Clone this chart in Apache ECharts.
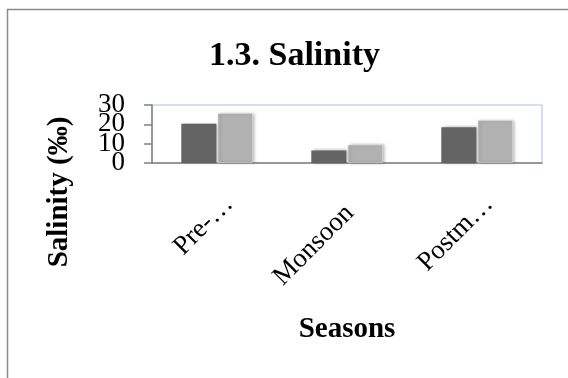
<!DOCTYPE html>
<html>
<head>
<meta charset="utf-8">
<style>
  html, body { margin: 0; padding: 0; background: #ffffff; }
  #chart { width: 568px; height: 378px; }
</style>
<script src="https://cdn.jsdelivr.net/npm/echarts@6/dist/echarts.min.js"></script>
</head>
<body>
<div id="chart"></div>
<script>
// Seasonal salinity, two series per season
const seasons = ['Pre-monsoon', 'Monsoon', 'Postmonsoon'];
const seasonLabels = ['Pre-\u2026', 'Monsoon', 'Postm\u2026'];
const seriesA = [20.3, 6.5, 18.5];
const seriesB = [25.7, 9.4, 22.1];
const yTicks = [0, 10, 20, 30];

const serif = '"Liberation Serif", "Times New Roman", serif';
const chart = echarts.init(document.getElementById('chart'), null, { renderer: 'canvas' });

const barShadow = {
  shadowColor: 'rgba(0,0,0,0.35)',
  shadowBlur: 3,
  shadowOffsetX: 2,
  shadowOffsetY: 0
};

// The tick labels crowd each other on this short axis, so they are split
// across two coincident value axes (alternating ticks) to keep all of them drawn.
function yAxisFor(part, drawLine) {
  return {
    type: 'value',
    position: 'left',
    min: yTicks[0], max: yTicks[yTicks.length - 1], interval: 10,
    axisLine: { show: drawLine, lineStyle: { color: '#808080', width: 1.5 } },
    axisTick: { show: drawLine, length: 8, lineStyle: { color: '#808080', width: 1.5 } },
    splitLine: { show: false },
    axisLabel: {
      margin: 27,
      showMinLabel: true,
      showMaxLabel: true,
      hideOverlap: false,
      fontFamily: serif, fontSize: 27, color: '#000',
      formatter: v => (yTicks.indexOf(v) % 2 === part ? String(v) : '')
    }
  };
}

// Truncated season names keep their ellipsis flush to the tick; full names
// sit a little further down along their slant.
const seasonRich = {
  cut: { fontFamily: serif, fontSize: 27, color: '#000', padding: [34, 0, 0, 0] },
  full: { fontFamily: serif, fontSize: 27, color: '#000', padding: [34, 13, 0, 0] }
};

chart.setOption({
  animation: false,
  backgroundColor: '#ffffff',
  title: {
    text: '1.3. Salinity',
    left: 204,
    top: 34,
    textStyle: { fontFamily: serif, fontSize: 34, fontWeight: 'bold', color: '#000' }
  },
  graphic: [
    {
      type: 'rect',
      left: 5, top: 7,
      shape: { width: 620, height: 420 },
      style: { fill: 'none', stroke: '#8c8c8c', lineWidth: 1.5 },
      silent: true
    },
    {
      type: 'text',
      x: 60, y: 192,
      rotation: Math.PI / 2,
      style: {
        text: 'Salinity (\u2030)',
        fontFamily: serif, fontSize: 29, fontWeight: 'bold', fill: '#000',
        align: 'center', verticalAlign: 'middle'
      }
    }
  ],
  grid: {
    left: 152, right: 26, top: 105, height: 58,
    show: true, borderColor: '#a7bde6', borderWidth: 1, backgroundColor: 'transparent'
  },
  xAxis: {
    type: 'category',
    data: seasons,
    name: 'Seasons',
    nameLocation: 'middle',
    nameGap: 152,
    nameTextStyle: { fontFamily: serif, fontSize: 29, fontWeight: 'bold', color: '#000' },
    axisLine: { lineStyle: { color: '#808080', width: 1.5 } },
    axisTick: { show: false },
    axisLabel: {
      rotate: 45,
      margin: 25,
      interval: 0,
      rich: seasonRich,
      formatter: (v, i) => {
        const text = seasonLabels[i];
        return (text === seasons[i] ? '{full|' : '{cut|') + text + '}';
      }
    }
  },
  yAxis: [yAxisFor(0, true), yAxisFor(1, false)],
  series: [
    {
      type: 'bar',
      data: seriesA,
      yAxisIndex: 0,
      barWidth: 35,
      barGap: '4%',
      itemStyle: Object.assign({ color: '#646464' }, barShadow)
    },
    {
      type: 'bar',
      data: seriesB,
      yAxisIndex: 0,
      barWidth: 35,
      itemStyle: Object.assign({ color: '#b2b2b2', borderColor: '#e8e8e8', borderWidth: 0.5 }, barShadow)
    }
  ]
});
</script>
</body>
</html>
